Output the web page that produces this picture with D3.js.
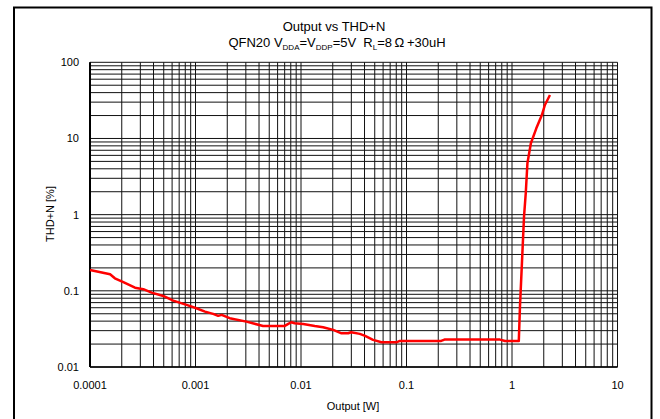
<!DOCTYPE html>
<html>
<head>
<meta charset="utf-8">
<script src="https://cdn.jsdelivr.net/npm/d3@7"></script>
<style>
  body { margin: 0; background: #fff; }
  svg { display: block; font-family: "Liberation Sans", Arial, sans-serif; }
</style>
</head>
<body>
<svg width="660" height="419"></svg>
<script>
// values
const outputW = [0.0001, 0.000155, 0.000172, 0.000207, 0.000267, 0.00032, 0.000384, 0.000495, 0.000615, 0.000823,
  0.00102, 0.00123, 0.00147, 0.00164, 0.00177, 0.00211, 0.00304, 0.00437, 0.00702, 0.00757,
  0.0081, 0.0087, 0.0105, 0.0135, 0.0162, 0.0202, 0.0242, 0.028, 0.0299, 0.0361,
  0.0405, 0.0482, 0.058, 0.08, 0.0865, 0.213, 0.229, 0.769, 0.86, 1.16,
  1.19, 1.25, 1.30, 1.35, 1.40, 1.51, 1.70, 1.92, 2.05, 2.29]
const thdN = [0.188, 0.165, 0.146, 0.130, 0.110, 0.105, 0.0948, 0.0857, 0.0744, 0.0654,
  0.059, 0.0533, 0.0498, 0.0469, 0.0483, 0.0437, 0.0394, 0.0346, 0.0346, 0.0368,
  0.0387, 0.0376, 0.0368, 0.0346, 0.0333, 0.0307, 0.0277, 0.0277, 0.0286, 0.0272,
  0.0256, 0.0227, 0.0211, 0.0211, 0.022, 0.022, 0.0229, 0.0229, 0.022, 0.022,
  0.062, 0.281, 0.94, 1.91, 4.73, 8.65, 13.6, 20.3, 27.5, 37.2]

const xTicks = [0.0001, 0.001, 0.01, 0.1, 1, 10]
const xTickLabels = ['0.0001', '0.001', '0.01', '0.1', '1', '10']
const yTicks = [0.01, 0.1, 1, 10, 100]
const yTickLabels = ['0.01', '0.1', '1', '10', '100']

const title = 'Output vs THD+N'
const xTitle = 'Output [W]'
const yTitle = 'THD+N [%]'

const data = outputW.map((p, i) => ({ p, v: thdN[i] }))

const svg = d3.select('svg')

// outer frame
svg.append('rect')
   .attr('x', 14).attr('y', 7.5)
   .attr('width', 637.5).attr('height', 430)
   .attr('fill', 'none')
   .attr('stroke', '#000')
   .attr('stroke-width', 2)

const x = d3.scaleLog().domain([0.0001, 10]).range([90, 617.5])
const y = d3.scaleLog().domain([0.01, 100]).range([367, 62.3])

// minor + major grid values
const gridVals = (lo, hi) => {
  let vals = []
  for (let d = lo; d < hi * 0.99; d *= 10) {
    for (let k = 1; k <= 9; k++) vals = [...vals, d * k]
  }
  return [...vals, hi]
}

const grid = svg.append('g').attr('stroke', '#111').attr('stroke-width', 1)

grid.selectAll('line.vx')
    .data(gridVals(0.0001, 10))
    .join('line')
    .attr('class', 'vx')
    .attr('x1', d => x(d)).attr('x2', d => x(d))
    .attr('y1', y(100)).attr('y2', y(0.01))

grid.selectAll('line.hy')
    .data(gridVals(0.01, 100))
    .join('line')
    .attr('class', 'hy')
    .attr('x1', x(0.0001)).attr('x2', x(10))
    .attr('y1', d => y(d)).attr('y2', d => y(d))

// axis lines
svg.append('line')
   .attr('x1', x(0.0001)).attr('x2', x(0.0001))
   .attr('y1', y(100)).attr('y2', y(0.01))
   .attr('stroke', '#000').attr('stroke-width', 2)
svg.append('line')
   .attr('x1', x(0.0001)).attr('x2', x(10))
   .attr('y1', y(0.01)).attr('y2', y(0.01))
   .attr('stroke', '#000').attr('stroke-width', 1.5)

// tick labels
svg.append('g')
   .selectAll('text')
   .data(xTicks)
   .join('text')
   .attr('x', d => x(d))
   .attr('y', 389)
   .attr('text-anchor', 'middle')
   .style('font-size', '11px')
   .text((d, i) => xTickLabels[i])

svg.append('g')
   .selectAll('text')
   .data(yTicks)
   .join('text')
   .attr('x', 79)
   .attr('y', d => y(d) + 4)
   .attr('text-anchor', 'end')
   .style('font-size', '11px')
   .text((d, i) => yTickLabels[i])

// data line
const line = d3.line()
               .x(d => x(d.p))
               .y(d => y(d.v))

svg.append('path')
   .datum(data)
   .attr('d', line)
   .attr('fill', 'none')
   .attr('stroke', '#ff0000')
   .attr('stroke-width', 2.5)
   .attr('stroke-linejoin', 'round')

// titles
svg.append('text')
   .text(title)
   .attr('x', 334).attr('y', 30.5)
   .attr('text-anchor', 'middle')
   .style('font-size', '13px')

const sub = svg.append('text')
               .attr('x', 337).attr('y', 47)
               .attr('text-anchor', 'middle')
               .style('font-size', '13px')
               .style('white-space', 'pre')
const parts = [['QFN20 V', 0], ['DDA', 1], ['=V', 0], ['DDP', 1], ['=5V  R', 0], ['L', 1], ['=8\u2009\u03A9\u2009+30uH', 0]]
let low = 0
parts.forEach(([t, s]) => {
  sub.append('tspan')
     .attr('dy', s ? 3 - low : -low)
     .style('font-size', s ? '8px' : '13px')
     .text(t)
  low = s ? 3 : 0
})

svg.append('text')
   .text(xTitle)
   .attr('x', 353).attr('y', 410)
   .attr('text-anchor', 'middle')
   .style('font-size', '11px')

svg.append('text')
   .text(yTitle)
   .attr('transform', `translate(54, 214)rotate(-90)`)
   .attr('text-anchor', 'middle')
   .style('font-size', '11px')
</script>
</body>
</html>
